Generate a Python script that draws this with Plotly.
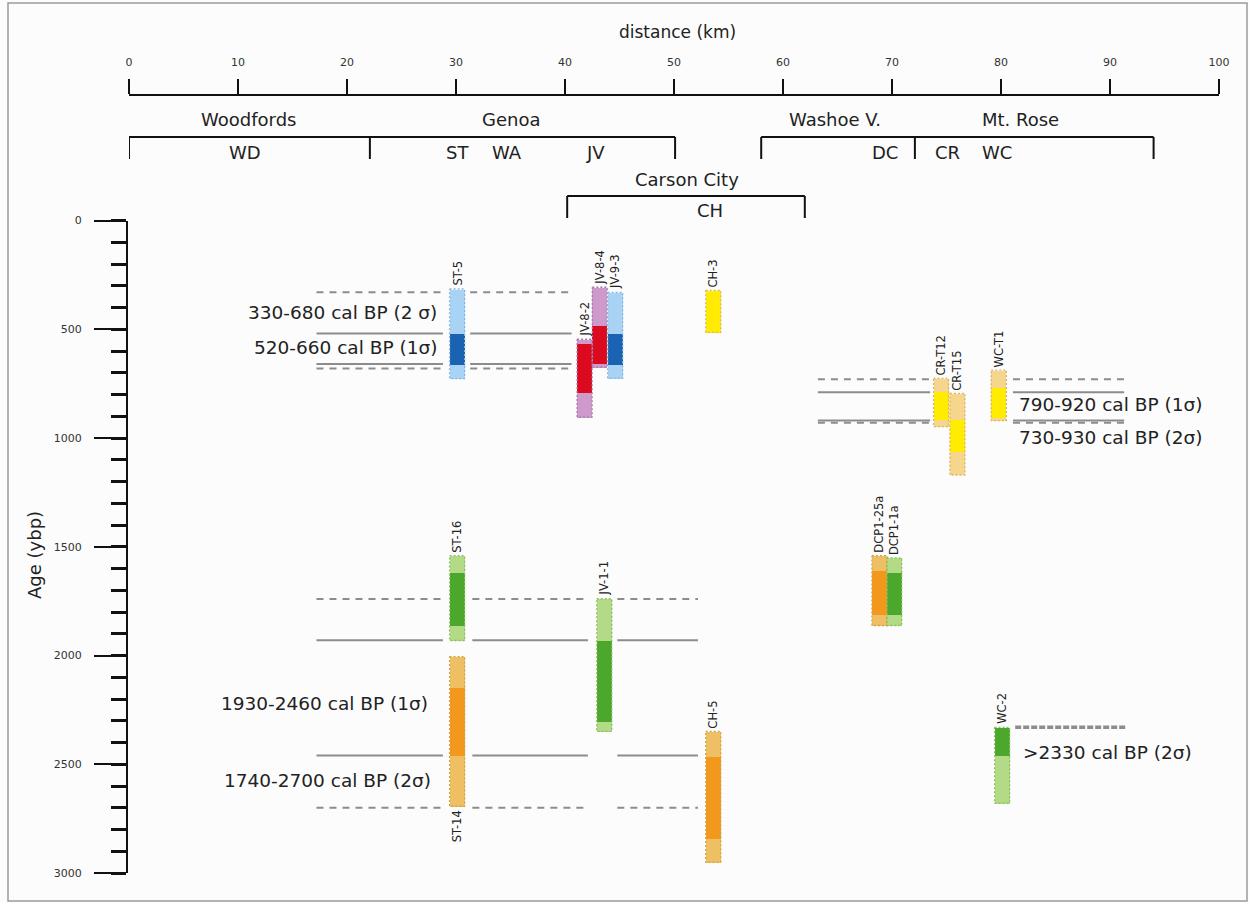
import plotly.graph_objects as go

# ---------------- data ----------------
samples = ["ST-5", "JV-8-2", "JV-8-4", "JV-9-3", "CH-3", "CR-T12", "CR-T15", "WC-T1",
           "ST-16", "ST-14", "JV-1-1", "CH-5", "DCP1-25a", "DCP1-1a", "WC-2"]
distance_km = [30.1, 41.8, 43.2, 44.6, 53.6, 74.5, 76.0, 79.8,
               30.1, 30.1, 43.6, 53.6, 68.85, 70.2, 80.1]
age_2s_min = [315, 546, 307, 330, 321, 726, 795, 688,
              1541, 2005, 1739, 2349, 1541, 1551, 2330]
age_2s_max = [727, 904, 674, 725, 514, 948, 1170, 920,
              1931, 2693, 2349, 2950, 1862, 1862, 2679]
age_1s_min = [520, 564, 482, 518, 321, 787, 913, 766,
              1619, 2147, 1931, 2463, 1610, 1619, 2330]
age_1s_max = [660, 789, 656, 661, 514, 917, 1060, 908,
              1862, 2459, 2303, 2840, 1812, 1812, 2459]
color_group = ["blue", "red", "red", "blue", "yellow", "yellow", "yellow", "yellow",
               "green", "orange", "green", "orange", "orange", "green", "green"]
label_side = ["top"] * 9 + ["bottom"] + ["top"] * 5

light_colors = {"blue": "#A9D3F4", "red": "#CD9ACB", "yellow": "#F6D58C",
                "green": "#B3DA86", "orange": "#EFC063"}
dark_colors = {"blue": "#1A63B2", "red": "#DC0A1E", "yellow": "#FFEC00",
               "green": "#4BA82C", "orange": "#F2981C"}
edge_colors = {"blue": "#86B6DE", "red": "#A87BA8", "yellow": "#D8B468",
               "green": "#8EBE62", "orange": "#D0A446"}

# reference lines (age, style) with x-segments in km
ref_ages = [[330, 520, 660, 680], [730, 790, 920, 930], [1740, 1930, 2460, 2700], [2330]]
ref_styles = [["dash", "solid", "solid", "dash"], ["dash", "solid", "solid", "dash"],
              ["dash", "solid", "solid", "dash"], ["dense"]]
ref_segments = [[(17.2, 28.8), (31.3, 40.6)],
                [(63.2, 73.5), (81.1, 91.3)],
                [(17.2, 28.8), (31.5, 42.1), (44.8, 52.2)],
                [(81.3, 91.5)]]

range_labels = ["330-680 cal BP (2 σ)", "520-660 cal BP (1σ)",
                "790-920 cal BP (1σ)", "730-930 cal BP (2σ)",
                "1930-2460 cal BP (1σ)", "1740-2700 cal BP (2σ)",
                ">2330 cal BP (2σ)"]
range_label_km = [28.4, 28.4, 81.5, 81.5, 27.6, 27.9, 81.8]
range_label_age = [423, 584, 847, 999, 2222, 2573, 2448]
range_label_anchor = ["right", "right", "left", "left", "right", "right", "left"]

x_ticks = [0, 10, 20, 30, 40, 50, 60, 70, 80, 90, 100]
y_ticks = [0, 500, 1000, 1500, 2000, 2500, 3000]

region_names = ["Woodfords", "Genoa", "Washoe V.", "Mt. Rose"]
region_km = [11.0, 35.0, 64.8, 81.8]
site_codes = ["WD", "ST", "WA", "JV", "DC", "CR", "WC"]
site_km = [10.6, 30.1, 34.7, 42.8, 69.4, 75.1, 79.6]
bracket_spans = [(0.0, 50.1), (58.0, 94.0)]
bracket_dividers = [22.1, 72.1]
city_name = "Carson City"
city_code = "CH"
city_km = 51.2
city_code_km = 53.3
city_span = (40.2, 62.0)

BAR_W = 1.38
W, H = 1249, 903
FONT = "DejaVu Sans"


def py(p):
    return 1 - p / H


fig = go.Figure()

# reference lines
for ages, styles, segs in zip(ref_ages, ref_styles, ref_segments):
    for age, st in zip(ages, styles):
        xs, ys = [], []
        for a, b in segs:
            xs += [a, b, None]
            ys += [age, age, None]
        if st == "solid":
            line = dict(color="#8C8C8C", width=2)
        elif st == "dash":
            line = dict(color="#8C8C8C", width=2, dash="7px,6px")
        else:
            line = dict(color="#8C8C8C", width=3.5, dash="6px,2px")
        fig.add_trace(go.Scatter(x=xs, y=ys, mode="lines", line=line,
                                 hoverinfo="skip", showlegend=False))

# 2-sigma bars
fig.add_trace(go.Bar(
    x=distance_km,
    y=[b - a for a, b in zip(age_2s_min, age_2s_max)],
    base=age_2s_min, width=[BAR_W] * len(samples),
    marker=dict(color=[light_colors[c] for c in color_group], line=dict(width=0)),
    showlegend=False, hovertext=samples))
# 1-sigma bars
fig.add_trace(go.Bar(
    x=distance_km,
    y=[b - a for a, b in zip(age_1s_min, age_1s_max)],
    base=age_1s_min, width=[BAR_W] * len(samples),
    marker=dict(color=[dark_colors[c] for c in color_group], line=dict(width=0)),
    showlegend=False, hovertext=samples))

# dotted outlines of the bars
for x, a, b, c in zip(distance_km, age_2s_min, age_2s_max, color_group):
    x0, x1 = x - BAR_W / 2, x + BAR_W / 2
    fig.add_trace(go.Scatter(x=[x0, x1, x1, x0, x0], y=[a, a, b, b, a], mode="lines",
                             line=dict(color=edge_colors[c], width=1.3, dash="2px,2px"),
                             hoverinfo="skip", showlegend=False))

annotations = []
# sample labels
for s, x, a, b, side in zip(samples, distance_km, age_2s_min, age_2s_max, label_side):
    if side == "top":
        annotations.append(dict(x=x, y=a, xref="x", yref="y", text=s, textangle=-90,
                                showarrow=False, xanchor="center", yanchor="bottom",
                                yshift=1, font=dict(family=FONT, size=11.5, color="#222")))
    else:
        annotations.append(dict(x=x, y=b, xref="x", yref="y", text=s, textangle=-90,
                                showarrow=False, xanchor="center", yanchor="top",
                                yshift=-2, font=dict(family=FONT, size=11.5, color="#222")))

# range labels
for t, x, y, anc in zip(range_labels, range_label_km, range_label_age, range_label_anchor):
    annotations.append(dict(x=x, y=y, xref="x", yref="y", text=t, showarrow=False,
                            xanchor=anc, yanchor="middle",
                            font=dict(family=FONT, size=18.5, color="#222")))

# region labels
for t, x in zip(region_names, region_km):
    annotations.append(dict(x=x, y=py(119), xref="x", yref="paper", text=t, showarrow=False,
                            xanchor="center", yanchor="middle",
                            font=dict(family=FONT, size=18, color="#222")))
for t, x in zip(site_codes, site_km):
    annotations.append(dict(x=x, y=py(152), xref="x", yref="paper", text=t, showarrow=False,
                            xanchor="center", yanchor="middle",
                            font=dict(family=FONT, size=18, color="#222")))
annotations.append(dict(x=city_km, y=py(180), xref="x", yref="paper", text=city_name,
                        showarrow=False, xanchor="center", yanchor="middle",
                        font=dict(family=FONT, size=18, color="#222")))
annotations.append(dict(x=city_code_km, y=py(211), xref="x", yref="paper", text=city_code,
                        showarrow=False, xanchor="center", yanchor="middle",
                        font=dict(family=FONT, size=18, color="#222")))

# axis titles
annotations.append(dict(x=50.3, y=py(32), xref="x", yref="paper", text="distance (km)",
                        showarrow=False, xanchor="center", yanchor="middle",
                        font=dict(family=FONT, size=17, color="#222")))
annotations.append(dict(x=34 / W, y=py(555), xref="paper", yref="paper", text="Age (ybp)",
                        showarrow=False, textangle=-90, xanchor="center", yanchor="middle",
                        font=dict(family=FONT, size=18, color="#222")))

shapes = []
# location brackets
for (a, b), d in zip(bracket_spans, bracket_dividers):
    shapes.append(dict(type="line", xref="x", yref="paper", x0=a, x1=b, y0=py(137), y1=py(137),
                       line=dict(color="#111", width=2)))
    for v in (a, d, b):
        shapes.append(dict(type="line", xref="x", yref="paper", x0=v, x1=v, y0=py(137), y1=py(159),
                           line=dict(color="#111", width=2)))
a, b = city_span
shapes.append(dict(type="line", xref="x", yref="paper", x0=a, x1=b, y0=py(196), y1=py(196),
                   line=dict(color="#111", width=2)))
for v in (a, b):
    shapes.append(dict(type="line", xref="x", yref="paper", x0=v, x1=v, y0=py(196), y1=py(218),
                       line=dict(color="#111", width=2)))
# frame
shapes.append(dict(type="rect", xref="paper", yref="paper", x0=8 / W, x1=1247 / W,
                   y0=py(901), y1=py(3), line=dict(color="#9A9A9A", width=1.5)))

fig.update_layout(
    template="none",
    width=W, height=H,
    margin=dict(l=0, r=0, t=0, b=0),
    paper_bgcolor="#FCFCFC", plot_bgcolor="rgba(0,0,0,0)",
    barmode="overlay", bargap=0,
    showlegend=False,
    annotations=annotations,
    shapes=shapes,
    xaxis=dict(range=[0, 100], domain=[129 / W, 1219 / W], side="top", anchor="free",
               position=py(95), showline=True, linewidth=2, linecolor="#111",
               ticks="outside", ticklen=15, tickwidth=2, tickcolor="#111",
               tickvals=x_ticks, ticktext=[str(v) for v in x_ticks],
               tickfont=dict(family=FONT, size=11, color="#333"), ticklabelstandoff=9,
               showgrid=False, zeroline=False, automargin=False),
    yaxis=dict(range=[3000, 0], domain=[py(873), py(220.5)], anchor="free",
               position=127 / W, showline=True, linewidth=2, linecolor="#111",
               ticks="outside", ticklen=32, tickwidth=2, tickcolor="#111",
               tickvals=y_ticks, ticktext=[str(v) for v in y_ticks],
               tickfont=dict(family=FONT, size=11, color="#333"), ticklabelstandoff=10,
               minor=dict(dtick=100, tick0=0, ticks="outside", ticklen=15, tickwidth=2.5,
                          tickcolor="#111", showgrid=False),
               showgrid=False, zeroline=False, automargin=False),
)

fig.write_html("out.html")
